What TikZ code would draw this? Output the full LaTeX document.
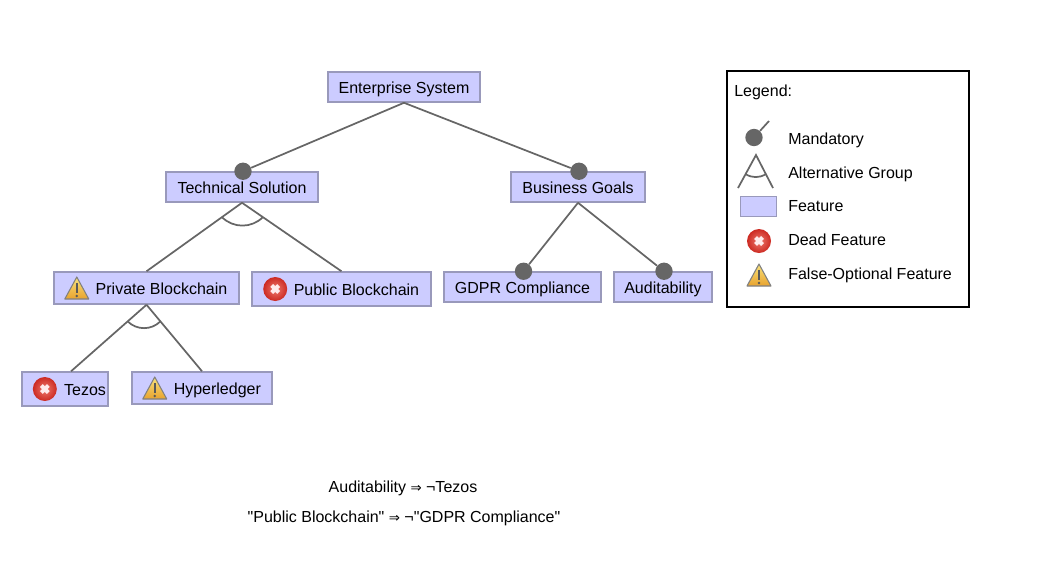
\documentclass[tikz,border=0pt]{standalone}
\usepackage{fontspec}
\setmainfont{Liberation Sans}
\newfontfamily\plainfont{Liberation Sans} % keeps the straight quotes
\newfontfamily\symbolfont{DejaVu Sans}
\usetikzlibrary{calc,positioning}
\definecolor{featfill}{HTML}{CCCCFF}
\definecolor{featline}{HTML}{9999BB}
\definecolor{edgegray}{HTML}{666666}
\definecolor{deadlight}{HTML}{EE7A6E}
\definecolor{deaddark}{HTML}{CC2A22}
\definecolor{warnlight}{HTML}{F8E27A}
\definecolor{warndark}{HTML}{E8A22E}
\tikzset{
feature/.style={draw=featline, fill=featfill, line width=1.5pt*0.75, inner sep=0pt, text height=10pt, text depth=0pt, font=\fontsize{12}{14}\selectfont}, % boxes of the tree
mandatory/.style={circle, fill=edgegray, inner sep=0pt, minimum size=13pt, xshift=0.75pt}, % dot on a box
edgeline/.style={draw=edgegray, line width=1.3pt},
plaintext/.style={inner sep=0pt, text height=10pt, text depth=0pt, font=\fontsize{12}{14}\selectfont},
constraint/.style={plaintext, font=\fontsize{12}{14}\selectfont\plainfont},
deadicon/.pic={
    \shade[inner color=deadlight, outer color=deaddark] (0,0) circle (12);
    \draw[white!92!red, line width=3pt] (-3.5,-3.5) -- (3.5,3.5) (-3.5,3.5) -- (3.5,-3.5);
},
warnicon/.pic={
    \shade[top color=warnlight, bottom color=warndark, draw=gray, line width=0.8pt, line join=round]
        (0,-11) -- (12,11) -- (-12,11) -- cycle;
    \draw[black!65, line width=1.8pt] (0,-5) -- (0,5);
    \fill[black!65] (0,8) circle (1.4);
},
}

\begin{document}
\begin{tikzpicture}[x=0.75pt,y=-0.75pt,on grid]
    \useasboundingbox (0,0) rectangle (1042,562);
    \node[feature, minimum width=114pt, minimum height=22.5pt] (es) at (404,87) {Enterprise System};
    \node[feature, minimum width=114pt, minimum height=22.5pt] (ts) [below left=75pt and 121.5pt of es] {Technical Solution};
    \node[feature, minimum width=100.5pt, minimum height=22.5pt] (bg) [below right=75pt and 130.5pt of es] {Business Goals};
    \node[feature, minimum width=138.75pt, minimum height=24pt] (pb) [below left=75.75pt and 71.6pt of ts] {\hspace*{22.5pt}Private Blockchain};
    \node[feature, minimum width=134.25pt, minimum height=25.5pt] (pub) [below right=76.5pt and 74.6pt of ts] {\hspace*{22.5pt}Public Blockchain};
    \node[feature, minimum width=117.75pt, minimum height=22.5pt] (gdpr) [below left=75pt and 41.6pt of bg] {GDPR Compliance};
    \node[feature, minimum width=73.5pt, minimum height=22.5pt] (aud) [below right=75pt and 63.75pt of bg] {Auditability};
    \node[feature, minimum width=64.5pt, minimum height=25.5pt] (tez) [below left=75.75pt and 61.1pt of pb] {\hspace*{30pt}Tezos};
    \node[feature, minimum width=105pt, minimum height=24pt] (hyp) [below right=75pt and 41.6pt of pb] {\hspace*{23pt}Hyperledger};

    \node[mandatory] (d_ts) at (ts.north) {};
    \node[mandatory] (d_bg) at (bg.north) {};
    \node[mandatory] (d_gdpr) at (gdpr.north) {};
    \node[mandatory] (d_aud) at (aud.north) {};

    \path[edgeline]
    (es.south) -- (d_ts)
    (es.south) -- (d_bg)
    (bg.south) -- (d_gdpr)
    (bg.south) -- (d_aud)
    (ts.south) -- (pb.north)
    (ts.south) -- (pub.north)
    (pb.south) -- ([xshift=4.5pt]tez.north)
    (pb.south) -- (hyp.north);
    \path[edgeline]
    ($(ts.south)!0.21!(pb.north)$) to[bend right=45] ($(ts.south)!0.21!(pub.north)$)
    ($(pb.south)!0.25!([xshift=4.5pt]tez.north)$) to[bend right=45] ($(pb.south)!0.25!(hyp.north)$);

    \pic (i_pb) at ($(pb.west)+(23.5,0)$) {warnicon};
    \pic (i_pub) at ($(pub.west)+(24,0)$) {deadicon};
    \pic (i_tez) at ($(tez.west)+(23.5,0)$) {deadicon};
    \pic (i_hyp) at ($(hyp.west)+(23.5,0)$) {warnicon};

    % legend
    \node[draw=black, line width=1.5pt, minimum width=181.5pt, minimum height=177pt] (legend) at (848,189) {};
    \node[plaintext, anchor=west] (lg_title) at (734,89.5) {Legend:};
    \node[mandatory] (lg_dot) at (753,137.5) {};
    \coordinate (lg_end) at (769,121);
    \draw[edgeline] (lg_dot) -- (lg_end);
    \node[plaintext, anchor=west] (lg_man) at (788,137.5) {Mandatory};
    \coordinate (lg_top) at (756,155);
    \coordinate (lg_l) at (738,188);
    \coordinate (lg_r) at (773,188);
    \draw[edgeline] (lg_l) -- (lg_top) -- (lg_r);
    \draw[edgeline] ($(lg_top)!0.58!(lg_l)$) to[bend right=30] ($(lg_top)!0.58!(lg_r)$);
    \node[plaintext, anchor=west] (lg_alt) at (788,171.7) {Alternative Group};
    \node[feature, minimum width=27pt, minimum height=15pt] (lg_box) at (758.5,206.5) {};
    \node[plaintext, anchor=west] (lg_feat) at (788,205) {Feature};
    \pic (lg_dead) at (759,241) {deadicon};
    \node[plaintext, anchor=west] (lg_deadtxt) at (788,239.3) {Dead Feature};
    \pic (lg_warn) at (759,275) {warnicon};
    \node[plaintext, anchor=west] (lg_warntxt) at (788,273.3) {False-Optional Feature};

    % constraints
    \node[constraint] (c_one) at (403,485.8) {Auditability {\symbolfont\fontsize{10}{14}\selectfont ⇒} ¬Tezos};
    \node[constraint] (c_two) at (404,515.8) {"Public Blockchain" {\symbolfont\fontsize{10}{14}\selectfont ⇒} ¬"GDPR Compliance"};
\end{tikzpicture}
\end{document}
